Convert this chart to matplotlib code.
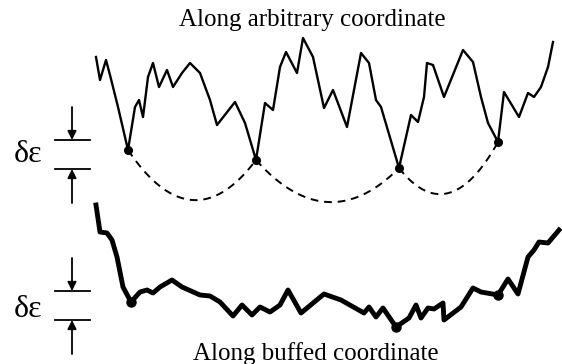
import matplotlib.pyplot as plt
import numpy as np

plt.rcParams['font.family'] = ['Liberation Serif', 'DejaVu Serif']

# energy profile along an arbitrary coordinate (picture coordinates, y down)
top_x = [96, 100, 106, 110, 118, 128, 135, 139, 143, 148, 153, 159, 167, 173,
         182, 190, 200, 210, 217, 235, 245, 256, 265, 273, 280, 286, 297, 303,
         313, 324, 333, 347, 361, 369, 376, 381, 399, 411, 418, 424, 427, 433,
         444, 463, 473, 481, 488, 498, 504, 519, 528, 534, 541, 548, 553]
top_y = [57, 80, 60, 75, 107, 150, 107, 100, 117, 77, 63, 87, 70, 87,
         73, 63, 73, 100, 125, 102, 123, 160, 103, 110, 67, 52, 73, 38,
         57, 108, 90, 127, 53, 63, 100, 107, 168, 115, 122, 97, 63, 65,
         97, 50, 62, 97, 123, 142, 92, 117, 93, 97, 87, 67, 42]
top_min_x = [128, 256, 399, 498]
top_min_y = [150, 160, 168, 142]
arc_bottom_y = [200, 202, 193]

# energy profile along the buffed coordinate
bot_x = [96, 100, 107, 112, 117, 123, 131, 140, 147, 153, 160, 172, 182, 200,
         210, 220, 233, 242, 252, 260, 270, 280, 288, 301, 324, 341, 364, 369,
         376, 383, 396, 409, 416, 421, 428, 434, 443, 444, 461, 473, 481, 498,
         508, 518, 528, 534, 539, 548, 559]
bot_y = [205, 232, 233, 240, 257, 287, 302, 292, 290, 293, 287, 280, 287, 295,
         296, 302, 316, 305, 315, 307, 312, 305, 290, 313, 294, 300, 313, 307,
         317, 308, 327, 318, 305, 318, 308, 309, 303, 320, 307, 288, 292, 295,
         279, 294, 257, 250, 242, 243, 230]
bot_min_x = [131, 396, 498]
bot_min_y = [302, 327, 295]

fig = plt.figure(figsize=(5.62, 3.64), dpi=100)
ax = fig.add_axes([0, 0, 1, 1])
ax.set_xlim(0, 562)
ax.set_ylim(364, 0)
ax.axis('off')

ax.plot(top_x, top_y, color='k', lw=1.7, solid_joinstyle='round')
ax.plot(top_min_x, top_min_y, 'o', color='k', ms=5.5)

# dashed arcs between neighbouring minima
for i in range(len(top_min_x) - 1):
    x0, x1 = top_min_x[i], top_min_x[i + 1]
    y0, y1 = top_min_y[i], top_min_y[i + 1]
    t = np.linspace(0, 1, 60)
    xs = x0 + (x1 - x0) * t
    base = y0 + (y1 - y0) * t
    depth = arc_bottom_y[i] - (y0 + y1) / 2
    ys = base + 4 * depth * t * (1 - t)
    ax.plot(xs, ys, color='k', lw=1.4, ls=(0, (4, 3)))

ax.plot(bot_x, bot_y, color='k', lw=3.5, solid_joinstyle='round')
ax.plot(bot_min_x, bot_min_y, 'o', color='k', ms=6.5)

# delta epsilon markers
for ya, yb, ybase in [(140, 169, 162), (291, 320, 317)]:
    ax.plot([55, 90], [ya, ya], color='k', lw=1.3)
    ax.plot([55, 90], [yb, yb], color='k', lw=1.3)
    ax.annotate('', xy=(72, ya), xytext=(72, ya - 33),
                arrowprops=dict(arrowstyle='-|>', color='k', lw=1.3,
                                mutation_scale=13, shrinkA=0, shrinkB=0))
    ax.annotate('', xy=(72, yb), xytext=(72, yb + 34),
                arrowprops=dict(arrowstyle='-|>', color='k', lw=1.3,
                                mutation_scale=13, shrinkA=0, shrinkB=0))
    ax.text(14, ybase, 'δε', fontsize=23, ha='left', va='baseline')

ax.text(312, 26, 'Along arbitrary coordinate', fontsize=18,
        ha='center', va='baseline')
ax.text(316, 360, 'Along buffed coordinate', fontsize=18,
        ha='center', va='baseline')

fig.savefig('out.png', dpi=100)
